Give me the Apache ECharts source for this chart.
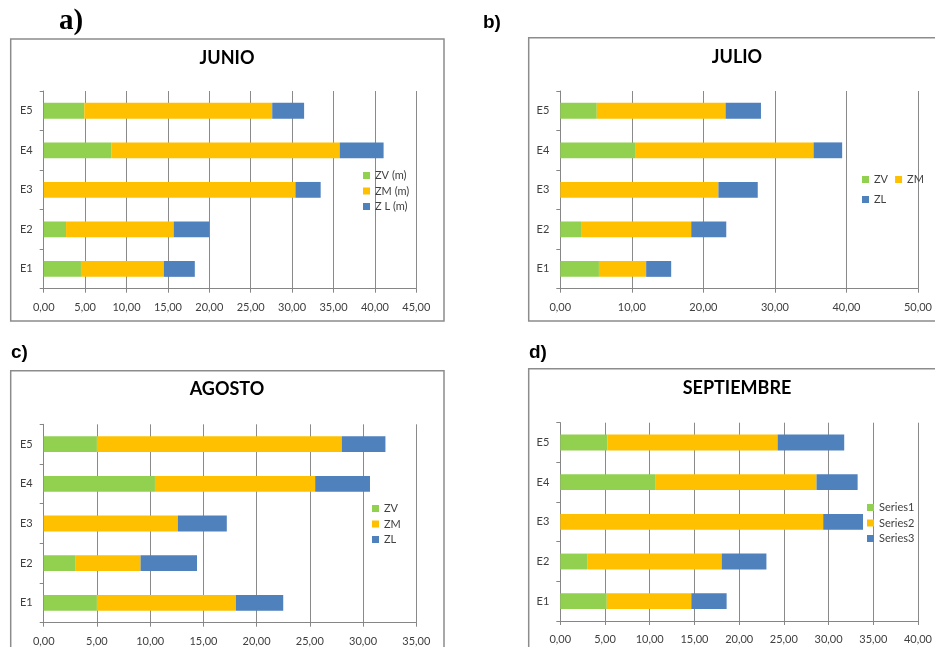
<!DOCTYPE html>
<html><head><meta charset="utf-8">
<script src="https://cdn.jsdelivr.net/npm/echarts@6/dist/echarts.min.js"></script>
<style>html,body{margin:0;padding:0;background:#fff}#c{width:935px;height:647px}</style>
</head><body><div id="c"></div>
<script>
const categories = ['E1','E2','E3','E4','E5'];
// JUNIO
const junioZV = [4.5, 2.7, 0, 8.2, 4.9];
const junioZM = [10.0, 13.0, 30.4, 27.55, 22.7];
const junioZL = [3.75, 4.3, 3.05, 5.3, 3.85];
// JULIO
const julioZV = [5.4, 2.9, 0, 10.55, 5.1];
const julioZM = [6.6, 15.4, 22.1, 24.85, 18.0];
const julioZL = [3.5, 4.9, 5.5, 4.0, 4.95];
// AGOSTO
const agostoZV = [5.0, 2.95, 0, 10.45, 5.0];
const agostoZM = [13.05, 6.15, 12.6, 15.05, 23.0];
const agostoZL = [4.45, 5.3, 4.6, 5.15, 4.1];
// SEPTIEMBRE
const sepS1 = [5.2, 3.0, 0, 10.6, 5.25];
const sepS2 = [9.45, 15.05, 29.4, 18.05, 19.05];
const sepS3 = [3.95, 5.0, 4.45, 4.6, 7.45];

const titles = ['JUNIO','JULIO','AGOSTO','SEPTIEMBRE'];
const panelLabels = ['a)','b)','c)','d)'];
const names = [['ZV (m)','ZM (m)','Z L (m)'],['ZV','ZM','ZL'],['ZV','ZM','ZL'],['Series1','Series2','Series3']];
const values = [[junioZV,junioZM,junioZL],[julioZV,julioZM,julioZL],[agostoZV,agostoZM,agostoZL],[sepS1,sepS2,sepS3]];
const axisMax = [45, 50, 35, 40];
const axisInterval = [5, 10, 5, 5];

const colors = ['#92D050','#FFC000','#4F81BD'];
const FONT = 'Lato, "Open Sans", sans-serif';
const grids = [
  {left: 43.7, top: 91, width: 372.6, height: 197.7},
  {left: 560.3, top: 91, width: 360, height: 197.7},
  {left: 43.7, top: 424.3, width: 372.6, height: 198.4},
  {left: 560.3, top: 422.7, width: 359.4, height: 198.3}
];
const titlePos = [[227, 49], [737, 48], [227, 380], [737, 379]];
const legends = [
  {left: 363, top: 169, orient: 'vertical'},
  {left: 862, top: 173, orient: 'horizontal', width: 72},
  {left: 372, top: 502, orient: 'vertical'},
  {left: 867, top: 501, orient: 'vertical'}
];
const fmt = v => v.toFixed(2).replace('.', ',');

const xAxis = [], yAxis = [], series = [], legend = [], title = [];
for (let p = 0; p < 4; p++) {
  xAxis.push({
    type: 'value', gridIndex: p, min: 0, max: axisMax[p], interval: axisInterval[p],
    axisLine: {show: true, lineStyle: {color: '#868686'}},
    axisTick: {show: true, length: 4, lineStyle: {color: '#868686'}},
    splitLine: {show: true, lineStyle: {color: '#8a8a8a', width: 1}},
    axisLabel: {formatter: fmt, color: '#404040', fontSize: 11, fontFamily: FONT, margin: 13}
  });
  yAxis.push({
    type: 'category', gridIndex: p, data: categories,
    axisLine: {show: true, lineStyle: {color: '#868686'}},
    axisTick: {show: true, length: 4, lineStyle: {color: '#868686'}},
    axisLabel: {color: '#404040', fontSize: 11, fontFamily: FONT, margin: 11}
  });
  for (let s = 0; s < 3; s++) {
    series.push({
      type: 'bar', name: names[p][s], xAxisIndex: p, yAxisIndex: p, stack: 'st' + p,
      data: values[p][s], barWidth: '40%', itemStyle: {color: colors[s]},
      emphasis: {disabled: true}
    });
  }
  legend.push(Object.assign({
    data: names[p], icon: 'rect', itemWidth: 7, itemHeight: 7,
    itemGap: p === 1 ? 7 : 2.5, padding: 0,
    textStyle: {color: '#404040', fontSize: 11, fontFamily: FONT, lineHeight: 13},
    selectedMode: false
  }, legends[p]));
  title.push({
    text: titles[p], left: titlePos[p][0], top: titlePos[p][1], textAlign: 'center',
    textStyle: {fontSize: 18, fontWeight: 'bold', fontFamily: FONT, color: '#000'}, padding: 0
  });
}

const border = {stroke: '#8c8c8c', lineWidth: 1.5, fill: 'none'};
const graphic = [
  {type: 'rect', shape: {x: 10.7, y: 39, width: 433.3, height: 282}, style: border, silent: true},
  {type: 'rect', shape: {x: 528.7, y: 37.7, width: 420, height: 283.3}, style: border, silent: true},
  {type: 'rect', shape: {x: 10.7, y: 370.7, width: 433.3, height: 300}, style: border, silent: true},
  {type: 'rect', shape: {x: 528.7, y: 368.7, width: 420, height: 300}, style: border, silent: true},
  {type: 'text', left: 59, top: 7, style: {text: panelLabels[0], font: 'bold 29px "Liberation Serif", serif', fill: '#000'}},
  {type: 'text', left: 483, top: 13, style: {text: panelLabels[1], font: 'bold 19px "Liberation Sans", sans-serif', fill: '#000'}},
  {type: 'text', left: 11, top: 343, style: {text: panelLabels[2], font: 'bold 19px "Liberation Sans", sans-serif', fill: '#000'}},
  {type: 'text', left: 529, top: 343, style: {text: panelLabels[3], font: 'bold 19px "Liberation Sans", sans-serif', fill: '#000'}}
];

const chart = echarts.init(document.getElementById('c'), null, {renderer: 'canvas'});
chart.setOption({
  animation: false, backgroundColor: '#fff',
  title, grid: grids, xAxis, yAxis, series, legend, graphic
});
</script></body></html>
